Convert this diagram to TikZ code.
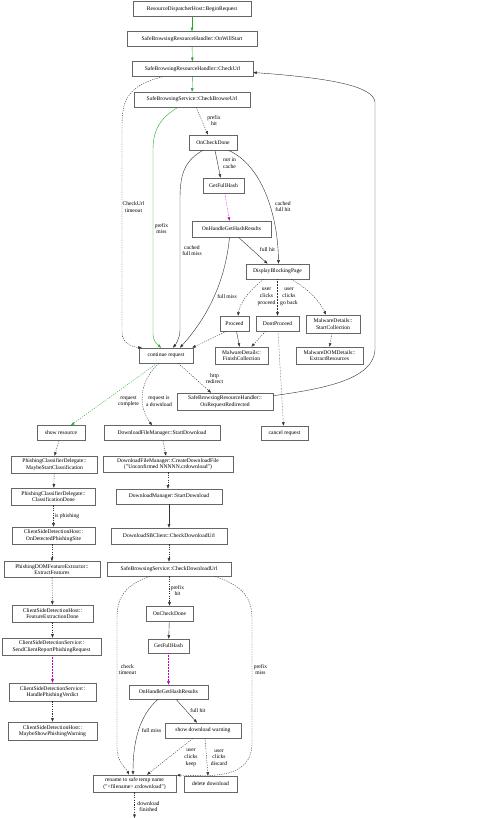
\documentclass[tikz,border=0pt]{standalone}
\usepackage{fontspec}
\setmainfont{Liberation Serif}
\usetikzlibrary{arrows.meta,calc}
\definecolor{eg}{RGB}{40,170,40}
\definecolor{em}{RGB}{190,0,190}
\begin{document}
\begin{tikzpicture}[x=1pt,y=-1pt,
  box/.style={draw=black!60, line width=0.6pt, fill=white, inner sep=0.5pt, minimum height=15pt, align=center, font=\fontsize{5.6}{6.6}\selectfont},
  lbl/.style={font=\fontsize{5.6}{6.8}\selectfont, align=center, inner sep=0pt},
  ar/.style={-{Triangle[length=3.5pt,width=2.6pt]}, line width=0.4pt, draw=black!80},
  dsh/.style={ar, dash pattern=on 1.2pt off 1.2pt},
  dtt/.style={ar, dash pattern=on 0.5pt off 1pt},
  grn/.style={draw=eg, -{Triangle[length=3.5pt,width=2.6pt,fill=eg]}},
  mag/.style={draw=em, -{Triangle[length=3.5pt,width=2.6pt,fill=em]}}]
\useasboundingbox (0,0) rectangle (500,818);
\fill[white] (0,0) rectangle (500,818);
% nodes
\node[box, minimum width=118] (n1) at (192,9) {ResourceDispatcherHost::BeginRequest};
\node[box, minimum width=130] (n2) at (192,39) {SafeBrowsingResourceHandler::OnWillStart};
\node[box, minimum width=121] (n3) at (192.5,69) {SafeBrowsingResourceHandler::CheckUrl};
\node[box, minimum width=116] (n4) at (192,99.5) {SafeBrowsingService::CheckBrowseUrl};
\node[box, minimum width=48] (n5) at (213,142.5) {OnCheckDone};
\node[box, minimum width=41] (n6) at (223.5,185.5) {GetFullHash};
\node[box, minimum width=79, minimum height=16] (n7) at (231.5,229) {OnHandleGetHashResults};
\node[box, minimum width=63] (n8) at (277.5,271.5) {DisplayBlockingPage};
\node[box, minimum width=29] (n9) at (234.5,323.5) {Proceed};
\node[box, minimum width=43] (n10) at (277.5,323.5) {DontProceed};
\node[box, minimum width=54, minimum height=18] (n11) at (333,324) {MalwareDetails::\\StartCollection};
\node[box, minimum width=53, minimum height=17] (n12) at (241.5,355.5) {MalwareDetails::\\FinishCollection};
\node[box, minimum width=67, minimum height=17] (n13) at (329.5,355.5) {MalwareDOMDetails::\\ExtractResources};
\node[box, minimum width=54] (n14) at (166,355.5) {continue request};
\node[box, minimum width=96, minimum height=17] (n15) at (225,401.5) {SafeBrowsingResourceHandler::\\OnRequestRedirected};
\node[box, minimum width=47, minimum height=14] (n16) at (284.5,433) {cancel request};
\node[box, minimum width=48] (n17) at (61,433) {show resource};
\node[box, minimum width=116] (n18) at (162,433) {DownloadFileManager::StartDownload};
\node[box, minimum width=86, minimum height=17] (n19) at (54.5,464.5) {PhishingClassifierDelegate::\\MaybeStartClassification};
\node[box, minimum width=130, minimum height=16] (n20) at (168,464) {DownloadFileManager::CreateDownloadFile\\("Unconfirmed NNNNN.crdownload")};
\node[box, minimum width=84, minimum height=17] (n21) at (53.5,496.5) {PhishingClassifierDelegate::\\ClassificationDone};
\node[box, minimum width=106] (n22) at (169,496.5) {DownloadManager::StartDownload};
\node[box, minimum width=83, minimum height=17] (n23) at (53.5,535.5) {ClientSideDetectionHost::\\OnDetectedPhishingSite};
\node[box, minimum width=116, minimum height=16] (n24) at (169,536) {DownloadSBClient::CheckDownloadUrl};
\node[box, minimum width=96, minimum height=16] (n25) at (52,569.5) {PhishingDOMFeatureExtractor::\\ExtractFeatures};
\node[box, minimum width=124, minimum height=14] (n26) at (169,569) {SafeBrowsingService::CheckDownloadUrl};
\node[box, minimum width=47] (n27) at (169.5,613.5) {OnCheckDone};
\node[box, minimum width=41, minimum height=14] (n28) at (168.5,646) {GetFullHash};
\node[box, minimum width=81, minimum height=17] (n29) at (52.5,613.5) {ClientSideDetectionHost::\\FeatureExtractionDone};
\node[box, minimum width=99, minimum height=17] (n30) at (51.5,646.5) {ClientSideDetectionService::\\SendClientReportPhishingRequest};
\node[box, minimum width=87, minimum height=18] (n31) at (52.5,692) {ClientSideDetectionService::\\HandlePhishingVerdict};
\node[box, minimum width=89, minimum height=18] (n32) at (52.5,731) {ClientSideDetectionHost::\\MaybeShowPhishingWarning};
\node[box, minimum width=79, minimum height=14] (n33) at (168.5,692) {OnHandleGetHashResults};
\node[box, minimum width=76] (n34) at (203,730.5) {show download warning};
\node[box, minimum width=83, minimum height=17] (n35) at (134.5,783.5) {rename to safe temp name\\("<filename>.crdownload")};
\node[box, minimum width=53, minimum height=16] (n36) at (210.5,784) {delete download};
\coordinate (bot) at (134.5,818);
% upper edges
\draw[ar,grn] (n1) -- (n2);
\draw[ar,grn] (n2) -- (n3);
\draw[ar,grn] (n3) -- (n4);
\draw[dsh] ($(n3.south)+(-30,0)$) .. controls (130,85) and (122,98) .. (122,125) -- (122,333) .. controls (122,343) and (132,347) .. ($(n14.north west)+(3,0)$);
\draw[ar,grn] ($(n4.south)+(-14,0)$) .. controls (160,118) and (153,130) .. (153,150) -- (153,334) .. controls (153,341) and (157,344) .. ($(n14.north)+(-5,0)$);
\draw[dsh] ($(n4.south)+(4,0)$) -- ($(n5.north)+(-5,0)$);
\draw[ar] ($(n5.south)+(2,0)$) -- ($(n6.north)+(-3,0)$);
\draw[ar] ($(n5.south east)+(-9,0)$) .. controls (262,165) and (278,215) .. ($(n8.north)+(1,0)$);
\draw[ar] ($(n5.south)+(-10,0)$) .. controls (186,160) and (180,172) .. (180,198) -- (180,330) .. controls (180,338) and (176,344) .. ($(n14.north)+(7,0)$);
\draw[dtt,mag] (n6) -- ($(n7.north)+(-2,0)$);
\draw[ar] ($(n7.south)+(7,0)$) -- ($(n8.north)+(-10,0)$);
\draw[ar] ($(n7.south)+(-2,0)$) .. controls (225,285) and (205,320) .. ($(n14.north)+(14,0)$);
\draw[dsh] ($(n8.south)+(-14,0)$) .. controls (250,290) and (240,302) .. ($(n9.north)+(3.5,0)$);
\draw[dtt] (n8) -- (n10);
\draw[dsh] ($(n8.south east)+(-18,0)$) .. controls (310,290) and (320,302) .. ($(n11.north)+(-7,0)$);
\draw[dsh] ($(n9.south)+(-8,0)$) -- ($(n14.north east)+(-1,0)$);
\draw[ar] ($(n9.south)+(2,0)$) -- ($(n12.north)+(-2,0)$);
\draw[dsh] ($(n10.south)+(-12,0)$) -- ($(n12.north)+(10,0)$);
\draw[dtt] ($(n10.south)+(0.5,0)$) -- ($(n16.north)+(-1,0)$);
\draw[dsh] ($(n11.south)+(-1,0)$) -- (n13.north);
\draw[dsh] ($(n14.south east)+(-15,0)$) -- ($(n15.north)+(-14,0)$);
\draw[ar] ($(n15.north east)+(0,3)$) .. controls (330,388) and (373,378) .. (375,350) -- (375,102) .. controls (373,86) and (330,78) .. ($(n3.east)+(0,3.5)$);
\draw[dsh,grn] ($(n14.south)+(-9,0)$) -- ($(n17.north)+(10,0)$);
\draw[dsh] ($(n14.south)+(-7,0)$) .. controls (140,380) and (137,405) .. ($(n18.north)+(-10,0)$);
% left column
\draw[dsh] ($(n17.south)+(-2,0)$) -- (n19.north);
\draw[dsh] (n19) -- (n21);
\draw[dsh] (n21) -- (n23);
\draw[dsh] ($(n23.south)+(-1.5,0)$) -- (n25.north);
\draw[dsh] (n25) -- (n29);
\draw[dsh] (n29) -- ($(n30.north)+(1,0)$);
\draw[dtt,mag] ($(n30.south)+(1,0)$) -- (n31.north);
\draw[dsh] (n31) -- (n32);
% download column
\draw[dsh] ($(n18.south)+(1,0)$) -- ($(n20.north)+(-2,0)$);
\draw[dsh] (n20) -- ($(n22.north)+(-1,0)$);
\draw[ar] (n22) -- (n24);
\draw[dsh] (n24) -- (n26);
\draw[dsh] ($(n26.south)+(0.5,0)$) -- (n27.north);
\draw[dsh] ($(n26.south west)+(43,0)$) .. controls (126,585) and (117,596) .. (117,618) -- (117,748) .. controls (117,762) and (126,768) .. ($(n35.north)+(-5.5,0)$);
\draw[dsh] ($(n26.south east)+(-16,0)$) .. controls (240,585) and (252,596) .. (252,618) -- (252,745) .. controls (251,768) and (232,775) .. (208,775.5) -- ($(n35.north east)+(0.5,0.5)$);
\draw[ar] (n27) -- (n28);
\draw[dtt,mag] (n28) -- (n33);
\draw[ar] ($(n33.south)+(7.5,0)$) -- ($(n34.north)+(-6,0)$);
\draw[ar] ($(n33.south)+(-10.5,0)$) .. controls (140,715) and (133,740) .. ($(n35.north)+(-1.5,0)$);
\draw[dsh] ($(n34.south)+(-10,0)$) -- ($(n35.north)+(12.5,0)$);
\draw[dsh] ($(n34.south)+(2,0)$) -- ($(n36.north)+(-2.5,0)$);
\draw[dsh] (n35) -- (bot);
% labels
\node[lbl] (l1) at (133.5,207) {CheckUrl\\timeout};
\node[lbl] (l2) at (161.5,228.5) {prefix\\miss};
\node[lbl] (l3) at (214,120.5) {prefix\\hit};
\node[lbl] (l4) at (229.5,163.5) {not in\\cache};
\node[lbl] (l5) at (283,206.5) {cached\\full hit};
\node[lbl] (l6) at (192,250.5) {cached\\full miss};
\node[lbl] (l7) at (267.5,250) {full hit};
\node[lbl] (l8) at (227,297) {full miss};
\node[lbl] (l9) at (266.5,296.5) {user\\clicks\\proceed};
\node[lbl] (l10) at (289,296.5) {user\\clicks\\go back};
\node[lbl] (l11) at (214.5,378.5) {http\\redirect};
\node[lbl] (l12) at (128.5,401.5) {request\\complete};
\node[lbl] (l13) at (159,401.5) {request is\\a download};
\node[lbl] (l14) at (67,516.5) {is phishing};
\node[lbl] (l15) at (177.5,590.5) {prefix\\hit};
\node[lbl] (l16) at (127.5,669.5) {check\\timeout};
\node[lbl] (l17) at (260.5,669.5) {prefix\\miss};
\node[lbl] (l18) at (198,711) {full hit};
\node[lbl] (l19) at (151.5,731) {full miss};
\node[lbl] (l20) at (191,757.5) {user\\clicks\\keep};
\node[lbl] (l21) at (219,757.5) {user\\clicks\\discard};
\node[lbl] (l22) at (148.5,806.5) {download\\finished};
\end{tikzpicture}
\end{document}
